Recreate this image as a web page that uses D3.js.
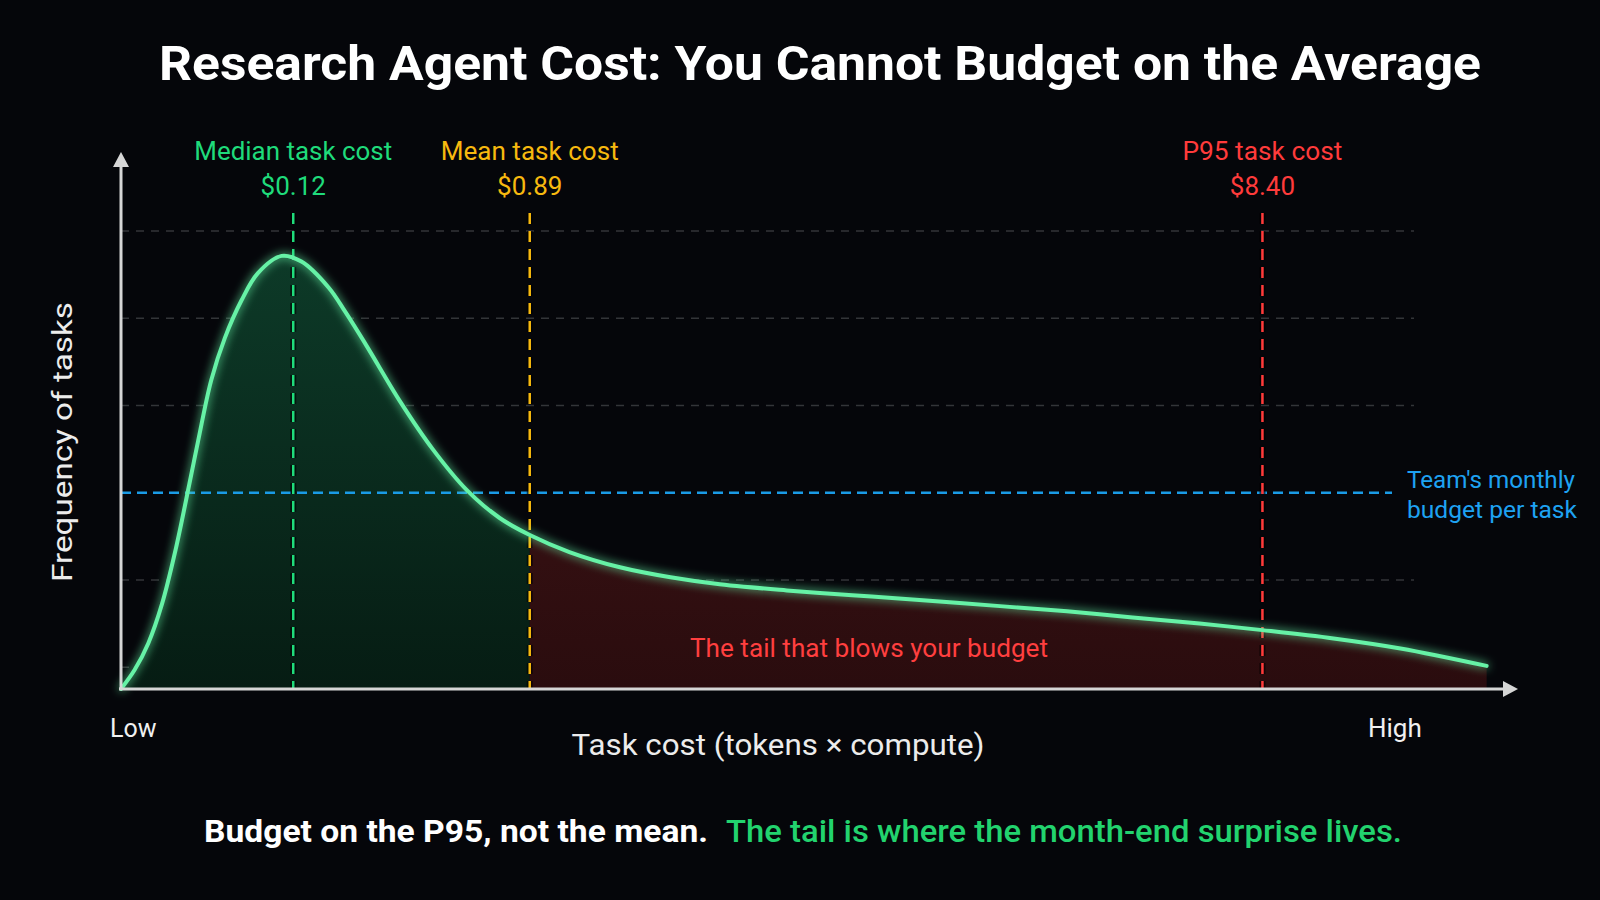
<!DOCTYPE html>
<html>
<head>
<meta charset="utf-8">
<script src="https://cdn.jsdelivr.net/npm/d3@7"></script>
<style>
  html, body { margin: 0; padding: 0; background: #05060a; }
  svg { display: block; font-family: Roboto, "Noto Sans", sans-serif; }
</style>
</head>
<body>
<svg id="chart" width="1600" height="900"></svg>
<script>
// cost (0 = low, 100 = high) vs frequency of tasks
var costX = [0, 1.0, 2.0, 3.0, 4.0, 5.0, 5.65, 6.6, 7.6, 8.8, 10.0, 11.75, 13.2, 15.2, 16.4, 18.0, 20.4, 22.8, 25.3, 27.7, 29.9,
             32.8, 36.5, 40.2, 43.8, 48.7, 53.5, 58.4, 64.3, 69.2, 74.0, 78.9, 83.5, 88.7, 93.6, 99.9];
var freqY = [0, 4.4, 10.5, 19.5, 32.0, 47.0, 57.0, 70.8, 80.5, 89.0, 95.3, 99.3, 98.0, 92.0, 86.5, 78.5, 66.0, 55.0, 45.6, 39.2, 35.3,
             31.4, 27.9, 25.6, 24.0, 22.6, 21.5, 20.4, 19.0, 17.8, 16.4, 15.0, 13.5, 11.6, 9.3, 5.3];

var markerNames  = ["Median task cost", "Mean task cost", "P95 task cost"];
var markerValues = ["$0.12", "$0.89", "$8.40"];
var markerX      = [12.6, 29.9, 83.5];
var markerColors = ["#1fdb7b", "#f7b90f", "#ff3b3b"];

var gridLevels = [5, 25, 45, 65, 85, 105];
var budgetLevel = 45;
var budgetLabel = ["Team's monthly", "budget per task"];

var svg = d3.select("#chart");

var x = d3.scaleLinear().domain([0, 100]).range([121, 1488]);
var y = d3.scaleLinear().domain([0, 105]).range([689, 231]);

var points = costX.map(function(c, i) { return [c, freqY[i]]; });

var defs = svg.append("defs");

var glow = defs.append("filter").attr("id", "glow")
    .attr("x", "-5%").attr("y", "-20%").attr("width", "110%").attr("height", "140%");
glow.append("feGaussianBlur").attr("stdDeviation", 5).attr("result", "b");
var merge = glow.append("feMerge");
merge.append("feMergeNode").attr("in", "b");
merge.append("feMergeNode").attr("in", "SourceGraphic");

var gGreen = defs.append("linearGradient").attr("id", "fillGreen")
    .attr("x1", 0).attr("y1", 0).attr("x2", 0).attr("y2", 1);
gGreen.append("stop").attr("offset", "0%").attr("stop-color", "#0d3a28");
gGreen.append("stop").attr("offset", "100%").attr("stop-color", "#061c13");

var gRed = defs.append("linearGradient").attr("id", "fillRed")
    .attr("x1", 0).attr("y1", 0).attr("x2", 0).attr("y2", 1);
gRed.append("stop").attr("offset", "0%").attr("stop-color", "#451618");
gRed.append("stop").attr("offset", "100%").attr("stop-color", "#2a0c0e");

defs.append("clipPath").attr("id", "clipLeft").append("rect")
    .attr("x", x(0)).attr("y", 0).attr("width", x(markerX[1]) - x(0)).attr("height", 900);
defs.append("clipPath").attr("id", "clipRight").append("rect")
    .attr("x", x(markerX[1])).attr("y", 0).attr("width", x(100) - x(markerX[1])).attr("height", 900);

// title
svg.append("text")
    .attr("x", 820).attr("y", 80)
    .attr("text-anchor", "middle")
    .attr("fill", "#ffffff")
    .attr("font-size", 48).attr("font-weight", 700)
    .attr("textLength", 1322).attr("lengthAdjust", "spacingAndGlyphs")
    .text("Research Agent Cost: You Cannot Budget on the Average");

// grid
svg.append("g").selectAll("line")
    .data(gridLevels.filter(function(d) { return d !== budgetLevel; }))
    .enter().append("line")
    .attr("x1", x(0)).attr("x2", 1414)
    .attr("y1", function(d) { return y(d); })
    .attr("y2", function(d) { return y(d); })
    .attr("stroke", "#333538").attr("stroke-width", 1.5)
    .attr("stroke-dasharray", "8,7");

var curve = d3.curveCatmullRom.alpha(0.5);

var area = d3.area()
    .x(function(d) { return x(d[0]); })
    .y0(y(0))
    .y1(function(d) { return y(d[1]); })
    .curve(curve);

var line = d3.line()
    .x(function(d) { return x(d[0]); })
    .y(function(d) { return y(d[1]); })
    .curve(curve);

svg.append("path").datum(points)
    .attr("d", area).attr("fill", "url(#fillGreen)")
    .attr("clip-path", "url(#clipLeft)");
svg.append("path").datum(points)
    .attr("d", area).attr("fill", "url(#fillRed)")
    .attr("clip-path", "url(#clipRight)");

// budget line
svg.append("line")
    .attr("x1", x(0)).attr("x2", 1392)
    .attr("y1", y(budgetLevel)).attr("y2", y(budgetLevel))
    .attr("stroke", "#1a9be6").attr("stroke-width", 2.5)
    .attr("stroke-dasharray", "10,6");

svg.append("g").selectAll("text")
    .data(budgetLabel)
    .enter().append("text")
    .attr("x", 1407)
    .attr("y", function(d, i) { return 488 + i * 30; })
    .attr("fill", "#1ea2f2")
    .attr("font-size", 24)
    .attr("textLength", function(d, i) { return i === 0 ? 168 : 170; })
    .attr("lengthAdjust", "spacingAndGlyphs")
    .text(function(d) { return d; });

// marker lines + labels
var markers = svg.append("g").selectAll("g")
    .data(markerX)
    .enter().append("g");

markers.append("line")
    .attr("x1", function(d) { return x(d); })
    .attr("x2", function(d) { return x(d); })
    .attr("y1", 213).attr("y2", y(0))
    .attr("stroke", "#000").attr("stroke-width", 6).attr("opacity", 0.6)
    .attr("stroke-dasharray", "11,7");
markers.append("line")
    .attr("x1", function(d) { return x(d); })
    .attr("x2", function(d) { return x(d); })
    .attr("y1", 213).attr("y2", y(0))
    .attr("stroke", function(d, i) { return markerColors[i]; })
    .attr("stroke-width", 2.5)
    .attr("stroke-dasharray", "11,7");

var labelWidths = [198, 178, 160];
markers.append("text")
    .attr("x", function(d) { return x(d); })
    .attr("y", 160)
    .attr("text-anchor", "middle")
    .attr("fill", function(d, i) { return markerColors[i]; })
    .attr("font-size", 25)
    .attr("textLength", function(d, i) { return labelWidths[i]; })
    .attr("lengthAdjust", "spacingAndGlyphs")
    .text(function(d, i) { return markerNames[i]; });
markers.append("text")
    .attr("x", function(d) { return x(d); })
    .attr("y", 195)
    .attr("text-anchor", "middle")
    .attr("fill", function(d, i) { return markerColors[i]; })
    .attr("font-size", 26)
    .text(function(d, i) { return markerValues[i]; });

// curve with glow
svg.append("path").datum(points)
    .attr("d", line)
    .attr("fill", "none")
    .attr("stroke", "#66f2a6").attr("stroke-width", 4)
    .attr("stroke-linecap", "round")
    .attr("filter", "url(#glow)");

// tail label
svg.append("text")
    .attr("x", 869).attr("y", 657)
    .attr("text-anchor", "middle")
    .attr("fill", "#ff3f3f")
    .attr("font-size", 25)
    .attr("textLength", 358).attr("lengthAdjust", "spacingAndGlyphs")
    .text("The tail that blows your budget");

// axes with arrowheads
var axisColor = "#d6d6d6";
svg.append("line")
    .attr("x1", x(0) - 2).attr("x2", 1505)
    .attr("y1", y(0)).attr("y2", y(0))
    .attr("stroke", axisColor).attr("stroke-width", 3);
svg.append("path")
    .attr("d", d3.line()([[1518, y(0)], [1503, y(0) - 8], [1503, y(0) + 8]]) + "Z")
    .attr("fill", axisColor);
svg.append("line")
    .attr("x1", x(0)).attr("x2", x(0))
    .attr("y1", y(0) + 1).attr("y2", 165)
    .attr("stroke", axisColor).attr("stroke-width", 3);
svg.append("path")
    .attr("d", d3.line()([[x(0), 152], [x(0) - 8, 167], [x(0) + 8, 167]]) + "Z")
    .attr("fill", axisColor);

// axis labels
svg.append("text")
    .attr("x", 110).attr("y", 737)
    .attr("fill", "#f0f0f0").attr("font-size", 25)
    .text("Low");
svg.append("text")
    .attr("x", 1368).attr("y", 737)
    .attr("fill", "#f0f0f0").attr("font-size", 26)
    .text("High");
svg.append("text")
    .attr("x", 778).attr("y", 755)
    .attr("text-anchor", "middle")
    .attr("fill", "#ececec").attr("font-size", 29)
    .attr("textLength", 413).attr("lengthAdjust", "spacingAndGlyphs")
    .text("Task cost (tokens \u00d7 compute)");
svg.append("text")
    .attr("transform", "translate(72,442) rotate(-90)")
    .attr("text-anchor", "middle")
    .attr("fill", "#ececec").attr("font-size", 28)
    .attr("textLength", 280).attr("lengthAdjust", "spacingAndGlyphs")
    .text("Frequency of tasks");

// bottom caption
svg.append("text")
    .attr("x", 204).attr("y", 842)
    .attr("fill", "#ffffff").attr("font-size", 31).attr("font-weight", 700)
    .attr("textLength", 504).attr("lengthAdjust", "spacingAndGlyphs")
    .text("Budget on the P95, not the mean.");
svg.append("text")
    .attr("x", 726).attr("y", 842)
    .attr("fill", "#22d36e").attr("font-size", 31).attr("font-weight", 500)
    .attr("textLength", 676).attr("lengthAdjust", "spacingAndGlyphs")
    .text("The tail is where the month-end surprise lives.");
</script>
</body>
</html>
